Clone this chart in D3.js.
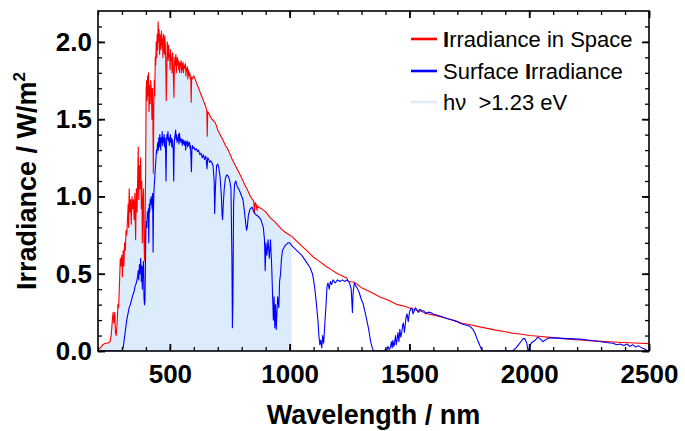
<!DOCTYPE html>
<html><head><meta charset="utf-8">
<script src="https://cdn.jsdelivr.net/npm/d3@7"></script>
<style>body{margin:0;background:#fff}svg{display:block}</style>
</head><body>
<svg id="c" width="685" height="431"></svg>
<script>
// ---- data ----
const xMajorTicks = [500, 1000, 1500, 2000, 2500];
const xMinorTicks = d3.range(200, 2501, 100);
const yMajorTicks = [0, 0.5, 1.0, 1.5, 2.0];
const yMinorTicks = d3.range(0, 22).map(i => i / 10);
const legendLabels = ["Irradiance in Space", "Surface Irradiance", "hν  >1.23 eV"];
const photonCutoff = 1008; // nm, 1.23 eV

const spaceWl = [200,210,220,230,240,250,255,260,263,266,270,273,276,280,283,286,290,293,296,299,302,305,308,311,314,317,320,323,326,328,330,333,336,339,342,345,348,351,354,357,360,363,366,368,370,373,375,378,381,383,385,387,390,392,394,396,397,399,401,403,405,407,409,411,413,415,418,420,423,425,427,429,431,433,435,437,439,441,443,445,447,449,451,453,455,457,459,461,463,465,467,469,471,473,475,477,479,481,483,485,487,489,491,493,495,497,499,501,503,505,507,509,511,513,515,517,519,521,523,525,527,529,531,533,535,537,539,541,543,545,547,549,551,553,555,557,559,561,563,565,567,569,571,573,575,577,579,581,583,585,587,589,591,593,596,600,605,610,615,620,625,630,635,640,645,650,654,656,658,662,668,675,682,688,694,700,710,720,732,744,752,760,770,780,790,800,814,822,830,840,850,853,856,860,864,866,870,884,900,920,935,951,965,980,995,1010,1030,1050,1075,1097,1120,1150,1175,1200,1220,1239,1245,1270,1300,1340,1377,1410,1450,1480,1515,1550,1580,1620,1656,1690,1720,1760,1794,1830,1860,1900,1932,1970,2000,2040,2074,2110,2140,2180,2212,2250,2280,2320,2350,2390,2420,2460,2500];
const spaceIrr = [0.01,0.02,0.04,0.05,0.05,0.06,0.10,0.20,0.25,0.18,0.25,0.12,0.10,0.18,0.30,0.28,0.45,0.60,0.55,0.62,0.48,0.65,0.55,0.70,0.65,0.78,0.75,0.85,0.95,0.80,1.05,0.90,0.98,0.82,1.00,0.92,0.98,0.85,1.02,0.72,1.05,0.90,1.15,1.32,0.98,1.20,1.05,1.25,0.92,1.10,0.70,0.95,1.05,0.72,0.60,0.58,0.90,1.20,1.70,1.75,1.62,1.78,1.65,1.80,1.55,1.72,1.60,1.75,1.68,1.50,1.70,1.52,1.15,1.60,1.75,1.65,1.90,1.85,2.00,1.90,2.05,1.95,2.13,2.00,2.08,1.92,2.05,2.00,1.95,2.07,1.98,2.02,1.90,2.05,2.00,1.92,2.04,1.98,1.85,1.62,1.80,2.00,1.95,1.88,1.98,1.90,1.92,1.82,1.95,1.88,1.90,1.80,1.93,1.90,1.75,1.64,1.85,1.90,1.85,1.92,1.80,1.88,1.90,1.85,1.88,1.82,1.87,1.80,1.86,1.85,1.88,1.80,1.86,1.82,1.87,1.80,1.85,1.84,1.83,1.86,1.78,1.83,1.81,1.84,1.76,1.82,1.80,1.78,1.80,1.76,1.78,1.61,1.77,1.76,1.77,1.78,1.76,1.74,1.72,1.70,1.68,1.66,1.64,1.62,1.60,1.58,1.56,1.39,1.55,1.54,1.52,1.50,1.49,1.48,1.46,1.43,1.40,1.37,1.33,1.30,1.27,1.24,1.21,1.18,1.15,1.12,1.07,1.05,1.02,0.99,0.97,0.89,0.96,0.95,0.91,0.94,0.93,0.92,0.90,0.86,0.84,0.815,0.79,0.77,0.755,0.74,0.71,0.68,0.645,0.61,0.585,0.55,0.525,0.50,0.485,0.47,0.45,0.445,0.41,0.38,0.35,0.33,0.30,0.29,0.27,0.255,0.24,0.225,0.21,0.195,0.18,0.168,0.156,0.145,0.135,0.125,0.115,0.108,0.10,0.095,0.09,0.085,0.08,0.075,0.071,0.067,0.064,0.061,0.058,0.055,0.053,0.05,0.048];

const surfaceWl = [200,300,305,310,315,320,325,330,335,340,345,350,355,360,365,368,370,373,376,378,381,383,385,387,390,392,394,396,398,400,402,404,406,408,410,412,414,416,418,420,422,424,426,428,430,432,434,436,438,440,442,444,446,448,450,452,454,456,458,460,462,464,466,468,470,472,474,476,478,480,482,484,486,488,490,492,494,496,498,500,502,504,506,508,510,512,514,516,518,520,522,524,526,528,530,532,534,536,538,540,542,544,546,548,550,552,554,556,558,560,562,564,566,568,570,572,574,576,578,580,582,584,586,588,590,592,594,596,600,605,610,615,620,625,630,635,640,645,650,655,658,662,666,670,675,680,685,687,690,695,700,705,710,715,718,720,723,727,732,738,744,750,755,759,761,763,766,770,775,780,790,800,805,810,815,820,823,828,835,843,850,860,870,880,890,895,898,901,905,910,915,920,925,928,932,935,938,941,944,947,950,955,958,962,966,970,980,993,1000,1010,1030,1050,1072,1085,1095,1100,1106,1112,1118,1122,1126,1130,1134,1138,1142,1147,1152,1156,1160,1165,1170,1175,1181,1190,1200,1210,1220,1230,1240,1250,1257,1262,1265,1270,1276,1281,1290,1300,1306,1315,1322,1330,1338,1345,1350,1395,1400,1405,1410,1415,1420,1425,1428,1431,1435,1438,1442,1445,1449,1452,1456,1460,1464,1468,1472,1475,1479,1482,1486,1490,1495,1500,1505,1510,1515,1520,1525,1530,1537,1544,1552,1560,1568,1575,1586,1600,1620,1640,1656,1680,1700,1711,1730,1753,1765,1775,1782,1790,1798,1807,1930,1945,1955,1965,1975,1982,1990,1995,2000,2008,2015,2025,2036,2045,2057,2070,2086,2120,2160,2212,2250,2280,2300,2320,2350,2365,2380,2395,2408,2420,2433,2445,2455,2470,2480,2490,2500];
const surfaceIrr = [0,0,0.02,0.08,0.14,0.20,0.24,0.28,0.30,0.33,0.36,0.38,0.42,0.44,0.48,0.52,0.46,0.56,0.50,0.60,0.45,0.55,0.40,0.52,0.58,0.35,0.30,0.32,0.55,0.78,0.84,0.80,0.90,0.86,0.92,0.70,0.95,0.90,0.98,0.95,1.00,0.96,0.92,1.02,0.64,0.95,1.05,1.10,1.15,1.20,1.25,1.30,1.28,1.33,1.35,1.30,1.38,1.32,1.40,1.36,1.30,1.38,1.35,1.42,1.33,1.38,1.35,1.40,1.32,1.38,1.30,1.10,1.35,1.40,1.37,1.42,1.36,1.38,1.33,1.36,1.40,1.35,1.38,1.32,1.37,1.35,1.30,1.10,1.32,1.38,1.40,1.43,1.37,1.40,1.35,1.38,1.36,1.40,1.34,1.41,1.36,1.38,1.35,1.37,1.36,1.33,1.37,1.34,1.36,1.35,1.33,1.36,1.30,1.35,1.34,1.36,1.32,1.35,1.33,1.34,1.35,1.31,1.33,1.25,1.16,1.30,1.33,1.31,1.32,1.30,1.31,1.29,1.30,1.27,1.28,1.25,1.27,1.24,1.26,1.18,1.25,1.24,1.22,1.23,1.22,1.20,1.10,0.89,1.05,1.20,1.21,1.18,1.12,1.00,0.88,0.85,0.95,1.05,1.12,1.14,1.13,1.10,1.05,0.60,0.15,0.30,0.95,1.08,1.10,1.07,1.04,1.00,0.98,0.92,0.85,0.78,0.80,0.88,0.92,0.93,0.90,0.88,0.87,0.85,0.80,0.72,0.52,0.70,0.62,0.72,0.60,0.72,0.55,0.40,0.20,0.35,0.15,0.30,0.14,0.25,0.35,0.28,0.45,0.50,0.60,0.65,0.68,0.70,0.70,0.68,0.65,0.62,0.57,0.54,0.50,0.46,0.39,0.30,0.20,0.10,0.04,0.07,0.02,0.10,0.05,0.18,0.30,0.42,0.44,0.40,0.45,0.43,0.46,0.44,0.46,0.45,0.46,0.45,0.46,0.44,0.40,0.25,0.38,0.44,0.42,0.41,0.38,0.33,0.31,0.25,0.20,0.14,0.06,0.02,0,0,0.01,0.0,0.03,0.01,0.02,0.06,0.02,0.07,0.03,0.05,0.10,0.04,0.08,0.12,0.06,0.14,0.09,0.12,0.17,0.18,0.12,0.16,0.22,0.24,0.19,0.25,0.27,0.28,0.24,0.26,0.28,0.27,0.25,0.27,0.26,0.26,0.24,0.25,0.25,0.24,0.23,0.22,0.21,0.20,0.19,0.18,0.17,0.16,0.14,0.11,0.08,0.05,0.02,0,0,0.02,0.04,0.06,0.08,0.08,0.05,0.0,0.02,0.05,0.06,0.07,0.09,0.08,0.06,0.075,0.085,0.083,0.08,0.077,0.07,0.065,0.06,0.055,0.05,0.04,0.045,0.035,0.045,0.03,0.04,0.025,0.035,0.02,0.015,0.005,0];

// ---- drawing ----
const plot = {left: 98, right: 649, top: 11, bottom: 351};
const svg = d3.select("#c");
const font = "'Liberation Sans', Arial, sans-serif";

const x = d3.scaleLinear().domain([200, 2500]).range([plot.left, plot.right]);
const y = d3.scaleLinear().domain([0, 2.2]).range([plot.bottom, plot.top]);

const space = spaceWl.map((w, i) => ({w, v: spaceIrr[i]}));
const surface = surfaceWl.map((w, i) => ({w, v: surfaceIrr[i]}));

const defs = svg.append("defs");
defs.append("clipPath").attr("id", "plotclip")
  .append("rect").attr("x", plot.left).attr("y", plot.top)
  .attr("width", plot.right - plot.left).attr("height", plot.bottom - plot.top);
defs.append("clipPath").attr("id", "fillclip")
  .append("rect").attr("x", plot.left).attr("y", plot.top)
  .attr("width", x(photonCutoff) - plot.left).attr("height", plot.bottom - plot.top);

const g = svg.append("g").attr("clip-path", "url(#plotclip)");

const area = d3.area().x(d => x(d.w)).y0(y(0)).y1(d => y(d.v));
g.append("path").datum(space).attr("d", area)
  .attr("fill", "#ddecfc").attr("clip-path", "url(#fillclip)");

const line = d3.line().x(d => x(d.w)).y(d => y(d.v));
g.append("path").datum(space).attr("d", line)
  .attr("fill", "none").attr("stroke", "#ff0000").attr("stroke-width", 1.1).attr("stroke-linejoin", "round");
g.append("path").datum(surface).attr("d", line)
  .attr("fill", "none").attr("stroke", "#0000ff").attr("stroke-width", 1.1).attr("stroke-linejoin", "round");

// axes
function styleAxis(sel, w) {
  sel.select(".domain").remove();
  sel.selectAll(".tick line").attr("stroke", "#000").attr("stroke-width", w);
}
const fmtY = d3.format(".1f");
// minor ticks
svg.append("g").attr("transform", `translate(0,${plot.bottom})`)
  .call(d3.axisBottom(x).tickValues(xMinorTicks).tickSize(-4).tickFormat("")).call(s => styleAxis(s, 1.3));
svg.append("g").attr("transform", `translate(0,${plot.top})`)
  .call(d3.axisTop(x).tickValues(xMinorTicks).tickSize(-4).tickFormat("")).call(s => styleAxis(s, 1.3));
svg.append("g").attr("transform", `translate(${plot.left},0)`)
  .call(d3.axisLeft(y).tickValues(yMinorTicks).tickSize(-4).tickFormat("")).call(s => styleAxis(s, 1.3));
svg.append("g").attr("transform", `translate(${plot.right},0)`)
  .call(d3.axisRight(y).tickValues(yMinorTicks).tickSize(-4).tickFormat("")).call(s => styleAxis(s, 1.3));
// major ticks
const xb = svg.append("g").attr("transform", `translate(0,${plot.bottom})`)
  .call(d3.axisBottom(x).tickValues(xMajorTicks).tickSize(-7).tickPadding(14).tickFormat(d3.format("d")));
styleAxis(xb, 1.8);
xb.selectAll("text").attr("font-family", font).attr("font-weight", "bold").attr("font-size", 26).attr("fill", "#000");
svg.append("g").attr("transform", `translate(0,${plot.top})`)
  .call(d3.axisTop(x).tickValues(xMajorTicks).tickSize(-7).tickFormat("")).call(s => styleAxis(s, 1.8));
const yl = svg.append("g").attr("transform", `translate(${plot.left},0)`)
  .call(d3.axisLeft(y).tickValues(yMajorTicks).tickSize(-7).tickPadding(6).tickFormat(fmtY));
styleAxis(yl, 1.8);
yl.selectAll("text").attr("font-family", font).attr("font-weight", "bold").attr("font-size", 26).attr("fill", "#000");
svg.append("g").attr("transform", `translate(${plot.right},0)`)
  .call(d3.axisRight(y).tickValues(yMajorTicks).tickSize(-7).tickFormat("")).call(s => styleAxis(s, 1.8));

// frame
svg.append("rect").attr("x", plot.left).attr("y", plot.top)
  .attr("width", plot.right - plot.left).attr("height", plot.bottom - plot.top)
  .attr("fill", "none").attr("stroke", "#000").attr("stroke-width", 1.6);

// titles
svg.append("text").attr("x", (plot.left + plot.right) / 2).attr("y", 424)
  .attr("text-anchor", "middle").attr("font-family", font).attr("font-weight", "bold")
  .attr("font-size", 27).text("Wavelength / nm");
const yt = svg.append("text").attr("transform", `translate(36,${(plot.top + plot.bottom) / 2}) rotate(-90)`)
  .attr("text-anchor", "middle").attr("font-family", font).attr("font-weight", "bold").attr("font-size", 27);
yt.append("tspan").text("Irradiance / W/m");
yt.append("tspan").attr("font-size", 17).attr("dy", -11).text("2");

// legend
const legColors = ["#ff0000", "#0000ff", "#ddecfc"];
const legY = [39, 71, 102];
const leg = svg.append("g");
legendLabels.forEach((lab, i) => {
  leg.append("line").attr("x1", 411).attr("x2", 437).attr("y1", legY[i]).attr("y2", legY[i])
    .attr("stroke", legColors[i]).attr("stroke-width", 2.6);
  const t = leg.append("text").attr("x", 443).attr("y", legY[i] + 8)
    .attr("font-family", font).attr("font-size", 22).attr("fill", "#000")
    .style("white-space", "pre");
  const idx = lab.indexOf("I");
  if (idx >= 0) {
    if (idx > 0) t.append("tspan").text(lab.slice(0, idx));
    t.append("tspan").attr("font-weight", "bold").text("I");
    t.append("tspan").text(lab.slice(idx + 1));
  } else {
    t.text(lab);
  }
});
</script>
</body></html>
